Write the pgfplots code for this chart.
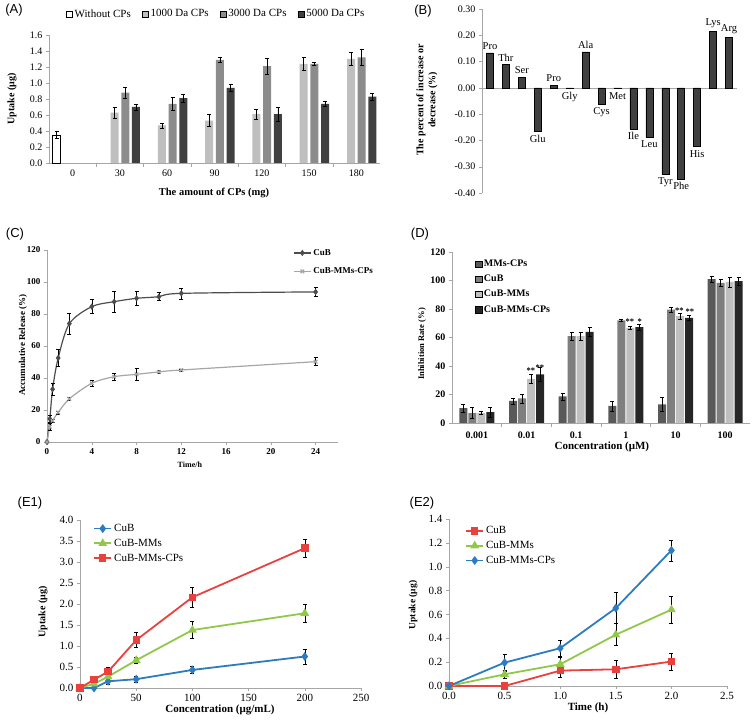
\documentclass[border=0pt]{standalone}
\usepackage{fontspec}
\setmainfont{Liberation Serif}
\newfontfamily\arialfont{Liberation Sans}
\usepackage{pgfplots}
\pgfplotsset{compat=1.18}
\definecolor{axgray}{HTML}{A6A6A6}
\definecolor{gA1}{HTML}{BFBFBF}
\definecolor{gA2}{HTML}{8C8C8C}
\definecolor{gA3}{HTML}{404040}
\definecolor{gB}{HTML}{404040}
\definecolor{cubC}{HTML}{4D4D4D}
\definecolor{cpsC}{HTML}{A6A6A6}
\definecolor{gD1}{HTML}{595959}
\definecolor{gD2}{HTML}{7F7F7F}
\definecolor{gD3}{HTML}{BFBFBF}
\definecolor{gD4}{HTML}{262626}
\definecolor{eblue}{HTML}{2E7BC0}
\definecolor{egreen}{HTML}{92C84A}
\definecolor{ered}{HTML}{E8413E}
\pgfplotsset{
 base/.style={scale only axis, anchor=south west, clip=false,
   axis lines*=left, axis line style={draw=axgray},
   tick style={draw=axgray, thin}, tick align=outside, major tick length=3pt,
   /pgf/number format/assume math mode=true,
   xlabel style={anchor=center}, ylabel style={anchor=center},
   legend cell align=left,
   legend style={draw=none, fill=none},
 },
 ebars/.style={error bars/.cd, y dir=both, y explicit,
   error bar style={draw=black, line width=0.5pt},
   error mark options={draw=black, rotate=90, mark size=2pt, line width=0.5pt}},
 sqleg/.style={legend image code/.code={\draw[##1] (0pt,-3.2pt) rectangle (6.4pt,3.2pt);}},
}
\begin{document}
\begin{tikzpicture}
\path[use as bounding box] (0pt,0pt) rectangle (755pt,721pt);
% ---------------- (A)
\begin{axis}[base, at={(49pt,558pt)}, width=331pt, height=128pt,
  ybar=2.7pt, bar width=8pt,
  xmin=-0.5, xmax=6.5, ymin=0, ymax=1.6,
  xtick={0,...,6}, xticklabels={0,30,60,90,120,150,180},
  major x tick style={draw=none}, minor xtick={0.5,1.5,2.5,3.5,4.5,5.5}, minor tick length=4pt,
  ytick={0,0.2,0.4,0.6,0.8,1.0,1.2,1.4,1.6},
  yticklabel style={/pgf/number format/.cd,fixed,fixed zerofill,precision=1,/tikz/.cd},
  tick label style={font=\fontsize{10}{12}\selectfont},
  ylabel={Uptake (μg)}, ylabel style={at={(axis description cs:-0.112,0.5)}, font=\bfseries\fontsize{10}{12}\selectfont},
  xlabel={The amount of CPs (mg)}, xlabel style={at={(axis description cs:0.4985,-0.234)}, font=\bfseries\fontsize{10.5}{12}\selectfont},
  sqleg,
  legend style={at={(axis description cs:0.505,1.164)}, anchor=center, legend columns=4,
    font=\fontsize{11}{13}\selectfont, /tikz/every even column/.append style={column sep=9pt}},
]
\addplot[fill=white, draw=black, ebars] coordinates {(0,0.35)+-(0,0.045)};
\addplot[fill=gA1, draw=none, ebars] coordinates {(1,0.63)+-(0,0.07) (2,0.47)+-(0,0.03) (3,0.53)+-(0,0.075) (4,0.61)+-(0,0.06) (5,1.24)+-(0,0.085) (6,1.30)+-(0,0.08)};
\addplot[fill=gA2, draw=none, ebars] coordinates {(1,0.88)+-(0,0.07) (2,0.74)+-(0,0.08) (3,1.29)+-(0,0.035) (4,1.21)+-(0,0.1) (5,1.24)+-(0,0.015) (6,1.32)+-(0,0.1)};
\addplot[fill=gA3, draw=none, ebars] coordinates {(1,0.70)+-(0,0.035) (2,0.81)+-(0,0.05) (3,0.94)+-(0,0.045) (4,0.61)+-(0,0.09) (5,0.74)+-(0,0.03) (6,0.83)+-(0,0.04)};
\legend{Without CPs,1000 Da CPs,3000 Da CPs,5000 Da CPs}
\end{axis}
% ---------------- (B)
\begin{axis}[base, at={(482pt,528pt)}, width=255pt, height=184pt,
  axis x line*=middle, axis y line*=left,
  xmin=-0.5, xmax=15.5, ymin=-0.4, ymax=0.3, xtick=\empty,
  ytick={-0.4,-0.3,-0.2,-0.1,0,0.1,0.2,0.3},
  yticklabel style={/pgf/number format/.cd,fixed,fixed zerofill,precision=2,/tikz/.cd},
  tick label style={font=\fontsize{10}{12}\selectfont},
  ybar, bar width=7pt,
  nodes near coords, point meta=explicit symbolic,
  ylabel={The percent of increase or\\decrease (\%)},
  ylabel style={at={(axis description cs:-0.216,0.505)}, align=center, font=\bfseries\fontsize{10}{12}\selectfont},
]
\addplot[fill=gB, draw=black, line width=0.5pt, bar shift=0pt,
  nodes near coords style={font=\fontsize{10.5}{12}\selectfont, text=black, anchor=south}] table[x=x, y=y, meta=lab] {
x y lab
0 0.133 Pro
1 0.088 Thr
2 0.041 Ser
4 0.009 Pro
6 0.137 Ala
14 0.215 Lys
15 0.191 Arg
};
\addplot[fill=gB, draw=black, line width=0.5pt, bar shift=0pt,
  nodes near coords style={font=\fontsize{10.5}{12}\selectfont, text=black, anchor=north}] table[x=x, y=y, meta=lab] {
x y lab
3 -0.165 Glu
5 -0.003 Gly
7 -0.063 Cys
8 -0.003 Met
9 -0.156 Ile
10 -0.188 Leu
11 -0.329 Tyr
12 -0.346 Phe
13 -0.223 His
};
\end{axis}
% ---------------- (C)
\begin{axis}[base, at={(47pt,279pt)}, width=291pt, height=192pt,
  xmin=0, xmax=26, ymin=0, ymax=120,
  xtick={0,4,8,12,16,20,24}, ytick={0,20,40,60,80,100,120},
  tick label style={font=\bfseries\fontsize{9}{11}\selectfont},
  ylabel={Accumulative Release (\%)}, ylabel style={at={(axis description cs:-0.0825,0.505)}, font=\bfseries\fontsize{9}{11}\selectfont},
  xlabel={Time/h}, xlabel style={at={(axis description cs:0.491,-0.12)}, font=\bfseries\fontsize{8}{10}\selectfont},
  legend style={at={(axis description cs:0.835,1.026)}, anchor=north west,
    font=\bfseries\fontsize{9}{11}\selectfont, row sep=7pt},
]
\addplot[smooth, cubC, line width=1.2pt, mark=diamond*, mark size=2.2pt, mark options={fill=cubC}, ebars] coordinates {
(0,0)+-(0,0) (0.25,14.5)+-(0,2) (0.5,33)+-(0,3.5) (1,52.5)+-(0,5.4) (2,74)+-(0,6.5) (4,84.6)+-(0,4.4)
(6,87.7)+-(0,6.5) (8,89.8)+-(0,4.6) (10,90.8)+-(0,2.5) (12,92.9)+-(0,3.4) (24,93.8)+-(0,2.9)};
\addplot[smooth, cpsC, line width=1.2pt, mark=x, mark size=2.5pt, ebars] coordinates {
(0,0)+-(0,0) (0.25,9.5)+-(0,2) (0.5,13.3)+-(0,1) (1,18.5)+-(0,1) (2,27)+-(0,1) (4,36.7)+-(0,2)
(6,40.8)+-(0,2) (8,42.3)+-(0,3.5) (10,43.8)+-(0,1) (12,45)+-(0,0.5) (24,50.2)+-(0,2.5)};
\legend{CuB,CuB-MMs-CPs}
\end{axis}
% ---------------- (D)
\begin{axis}[base, at={(452pt,298pt)}, width=298pt, height=171pt,
  ybar=1pt, bar width=8pt,
  xmin=-0.5, xmax=5.5, ymin=0, ymax=120,
  xtick={0,...,5}, xticklabels={0.001,0.01,0.1,1,10,100},
  major x tick style={draw=none}, minor xtick={0.5,1.5,2.5,3.5,4.5}, minor tick length=4pt,
  ytick={0,20,40,60,80,100,120},
  tick label style={font=\bfseries\fontsize{10}{12}\selectfont},
  xticklabel style={yshift=-2pt},
  ylabel={Inhibition Rate (\%)}, ylabel style={at={(axis description cs:-0.1007,0.462)}, font=\bfseries\fontsize{8.5}{10}\selectfont},
  xlabel={Concentration (μM)}, xlabel style={at={(axis description cs:0.503,-0.14)}, font=\bfseries\fontsize{11}{13}\selectfont},
  sqleg,
  legend style={at={(axis description cs:0.067,0.977)}, anchor=north west,
    font=\bfseries\fontsize{10}{12}\selectfont, row sep=3pt},
]
\addplot[fill=gD1, draw=none, ebars] coordinates {(0,10.5)+-(0,2.7) (1,15.5)+-(0,2) (2,18.7)+-(0,2.5) (3,12)+-(0,3.5) (4,13)+-(0,5) (5,101)+-(0,2)};
\addplot[fill=gD2, draw=none, ebars] coordinates {(0,7)+-(0,4) (1,17.2)+-(0,3) (2,61)+-(0,3) (3,72)+-(0,0.5) (4,79.6)+-(0,1.7) (5,98.4)+-(0,2.5)};
\addplot[fill=gD3, draw=none, ebars] coordinates {(0,7)+-(0,1.2) (1,31)+-(0,3) (2,61)+-(0,3) (3,66.7)+-(0,1) (4,75)+-(0,2) (5,99)+-(0,3.5)};
\addplot[fill=gD4, draw=none, ebars] coordinates {(0,7.7)+-(0,3.5) (1,34.2)+-(0,5) (2,64)+-(0,3) (3,67.2)+-(0,2) (4,73.8)+-(0,1.6) (5,99.5)+-(0,2.5)};
\legend{MMs-CPs,CuB,CuB-MMs,CuB-MMs-CPs}
\node[anchor=base, font=\bfseries\fontsize{8.5}{10}\selectfont, inner sep=0pt] at (axis cs:1.09,34.7) {**};
\node[anchor=base, font=\bfseries\fontsize{8.5}{10}\selectfont, inner sep=0pt] at (axis cs:1.27,37.1) {**};
\node[anchor=base, font=\bfseries\fontsize{8.5}{10}\selectfont, inner sep=0pt] at (axis cs:3.08,69.4) {**};
\node[anchor=base, font=\bfseries\fontsize{8.5}{10}\selectfont, inner sep=0pt] at (axis cs:3.28,69.4) {*};
\node[anchor=base, font=\bfseries\fontsize{8.5}{10}\selectfont, inner sep=0pt] at (axis cs:4.08,77.1) {**};
\node[anchor=base, font=\bfseries\fontsize{8.5}{10}\selectfont, inner sep=0pt] at (axis cs:4.29,76.1) {**};
\end{axis}
% ---------------- (E1)
\begin{axis}[base, at={(80pt,33pt)}, width=281pt, height=168pt,
  xmin=0, xmax=250, ymin=0, ymax=4,
  xtick={0,50,100,150,200,250}, ytick={0,0.5,1,1.5,2,2.5,3,3.5,4},
  yticklabel style={/pgf/number format/.cd,fixed,fixed zerofill,precision=1,/tikz/.cd},
  tick label style={font=\fontsize{11}{13}\selectfont},
  ylabel={Uptake (μg)}, ylabel style={at={(axis description cs:-0.132,0.452)}, font=\bfseries\fontsize{10}{12}\selectfont},
  xlabel={Concentration (μg/mL)}, xlabel style={at={(axis description cs:0.498,-0.131)}, font=\bfseries\fontsize{11}{13}\selectfont},
  legend style={at={(axis description cs:0.036,1.0)}, anchor=north west,
    font=\fontsize{11}{13}\selectfont, row sep=2pt},
]
\addplot[eblue, line width=1.8pt, mark=diamond*, mark size=3pt, ebars] coordinates {
(0,0)+-(0,0) (12.5,0.0)+-(0,0.02) (25,0.16)+-(0,0.07) (50,0.21)+-(0,0.07) (100,0.43)+-(0,0.08) (200,0.75)+-(0,0.18)};
\addplot[egreen, line width=1.8pt, mark=triangle*, mark size=3.3pt, ebars] coordinates {
(0,0)+-(0,0) (12.5,0.1)+-(0,0.03) (25,0.27)+-(0,0.05) (50,0.66)+-(0,0.08) (100,1.38)+-(0,0.2) (200,1.78)+-(0,0.22)};
\addplot[ered, line width=1.8pt, mark=square*, mark size=2.8pt, ebars] coordinates {
(0,0)+-(0,0) (12.5,0.2)+-(0,0.05) (25,0.39)+-(0,0.1) (50,1.14)+-(0,0.18) (100,2.16)+-(0,0.23) (200,3.33)+-(0,0.22)};
\legend{CuB,CuB-MMs,CuB-MMs-CPs}
\end{axis}
% ---------------- (E2)
\begin{axis}[base, at={(449pt,35pt)}, width=278pt, height=167pt,
  xmin=0, xmax=2.5, ymin=0, ymax=1.4,
  xtick={0,0.5,1,1.5,2,2.5}, ytick={0,0.2,0.4,0.6,0.8,1.0,1.2,1.4},
  ticklabel style={/pgf/number format/.cd,fixed,fixed zerofill,precision=1,/tikz/.cd},
  tick label style={font=\fontsize{11}{13}\selectfont},
  ylabel={Uptake (μg)}, ylabel style={at={(axis description cs:-0.129,0.485)}, font=\bfseries\fontsize{9.5}{11}\selectfont},
  xlabel={Time (h)}, xlabel style={at={(axis description cs:0.5,-0.132)}, font=\bfseries\fontsize{11}{13}\selectfont},
  legend style={at={(axis description cs:0.047,0.98)}, anchor=north west,
    font=\fontsize{11}{13}\selectfont, row sep=2pt},
]
\addplot[ered, line width=1.8pt, mark=square*, mark size=2.8pt, ebars] coordinates {
(0,0)+-(0,0) (0.5,0.0)+-(0,0) (1,0.129)+-(0,0.053) (1.5,0.14)+-(0,0.073) (2,0.205)+-(0,0.073)};
\addplot[egreen, line width=1.8pt, mark=triangle*, mark size=3.3pt, ebars] coordinates {
(0,0)+-(0,0) (0.5,0.098)+-(0,0.03) (1,0.182)+-(0,0.06) (1.5,0.43)+-(0,0.092) (2,0.64)+-(0,0.112)};
\addplot[eblue, line width=1.8pt, mark=diamond*, mark size=3pt, ebars] coordinates {
(0,0)+-(0,0) (0.5,0.196)+-(0,0.07) (1,0.317)+-(0,0.07) (1.5,0.653)+-(0,0.13) (2,1.137)+-(0,0.088)};
\legend{CuB,CuB-MMs,CuB-MMs-CPs}
\end{axis}
% ---------------- panel letters
\node[font=\arialfont\fontsize{13}{15}\selectfont] at (14pt,711pt) {(A)};
\node[font=\arialfont\fontsize{13}{15}\selectfont] at (423pt,710pt) {(B)};
\node[font=\arialfont\fontsize{13}{15}\selectfont] at (15pt,487pt) {(C)};
\node[font=\arialfont\fontsize{13}{15}\selectfont] at (420pt,487pt) {(D)};
\node[font=\arialfont\fontsize{13}{15}\selectfont] at (30pt,218pt) {(E1)};
\node[font=\arialfont\fontsize{13}{15}\selectfont] at (422pt,218pt) {(E2)};
\end{tikzpicture}
\end{document}
